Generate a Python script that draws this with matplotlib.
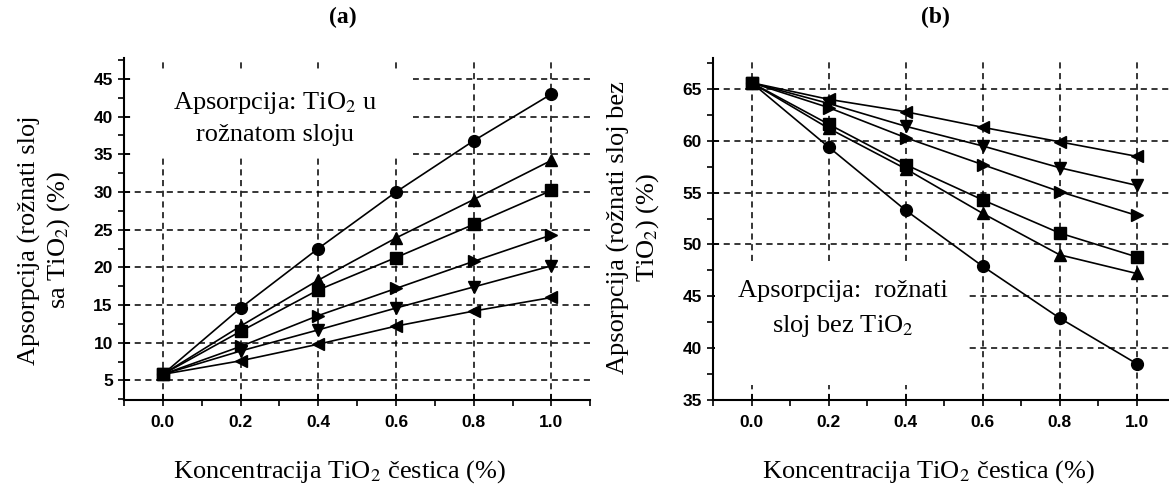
import matplotlib
matplotlib.use("Agg")
import matplotlib.pyplot as plt
from matplotlib.patches import Rectangle
from matplotlib.ticker import MultipleLocator

plt.rcParams['font.family'] = ['Liberation Serif', 'DejaVu Serif']
plt.rcParams['mathtext.fontset'] = 'stix'

# x values: TiO2 concentration (%)
concentration = [0.0, 0.2, 0.4, 0.6, 0.8, 1.0]

# panel (a): absorption of the pink layer with TiO2
a_circle = [5.8, 14.6, 22.5, 30.0, 36.8, 43.0]
a_up = [5.8, 12.2, 18.3, 23.9, 29.0, 34.2]
a_square = [5.8, 11.5, 17.0, 21.3, 25.7, 30.2]
a_right = [5.8, 9.5, 13.6, 17.2, 20.8, 24.3]
a_down = [5.8, 8.9, 11.7, 14.6, 17.4, 20.2]
a_left = [5.8, 7.6, 9.8, 12.2, 14.2, 16.0]

# panel (b): absorption of the pink layer without TiO2
b_circle = [65.6, 59.4, 53.3, 47.9, 42.9, 38.5]
b_up = [65.6, 61.2, 57.3, 53.0, 49.0, 47.2]
b_square = [65.6, 61.6, 57.7, 54.3, 51.1, 48.8]
b_right = [65.6, 63.2, 60.3, 57.7, 55.1, 52.8]
b_down = [65.6, 63.6, 61.4, 59.5, 57.4, 55.7]
b_left = [65.6, 64.0, 62.8, 61.3, 59.9, 58.5]

markers = ['o', '^', 's', '>', 'v', '<']
a_series = [a_circle, a_up, a_square, a_right, a_down, a_left]
b_series = [b_circle, b_up, b_square, b_right, b_down, b_left]

fig = plt.figure(figsize=(11.69, 4.86), dpi=100)
axA = fig.add_axes([0.106, 0.177, 0.399, 0.704])
axB = fig.add_axes([0.610, 0.177, 0.392, 0.704])


def styleAxis(ax, xlim, ylim, yticks):
    ax.set_xlim(*xlim)
    ax.set_ylim(*ylim)
    ax.set_xticks(concentration)
    ax.set_xticklabels([f"{c:.1f}" for c in concentration])
    ax.set_yticks(yticks)
    ax.xaxis.set_minor_locator(MultipleLocator(0.1))
    ax.yaxis.set_minor_locator(MultipleLocator(2.5))
    ax.tick_params(which='major', direction='inout', length=8, width=1.2)
    ax.tick_params(axis='x', which='major', pad=7)
    ax.tick_params(axis='y', which='major', pad=4)
    ax.tick_params(which='minor', direction='out', length=4, width=1.2)
    for lbl in ax.get_xticklabels() + ax.get_yticklabels():
        lbl.set_family('Liberation Sans')
        lbl.set_fontweight('bold')
        lbl.set_fontsize(12.5)
    for side in ['top', 'right']:
        ax.spines[side].set_visible(False)
    for side in ['left', 'bottom']:
        ax.spines[side].set_linewidth(1.5)
    ax.set_axisbelow(True)
    ax.grid(True, which='major', color='black', linestyle=(0, (4, 3)), linewidth=1.1)


styleAxis(axA, (-0.1, 1.1), (2.4, 47.8), [5, 10, 15, 20, 25, 30, 35, 40, 45])
styleAxis(axB, (-0.1, 1.09), (35, 68), [35, 40, 45, 50, 55, 60, 65])

for vals, m in zip(a_series, markers):
    axA.plot(concentration, vals, color='black', marker=m, markersize=8.5,
             linewidth=1.2, zorder=3)
for vals, m in zip(b_series, markers):
    axB.plot(concentration, vals, color='black', marker=m, markersize=8.5,
             linewidth=1.2, zorder=3)

# white label boxes inside the plots
axA.add_patch(Rectangle((0.02, 0.71), 0.6, 0.255, transform=axA.transAxes,
                        facecolor='white', edgecolor='none', zorder=2))
axA.text(0.324, 0.868, r"Apsorpcija: TiO$_2$ u", transform=axA.transAxes,
         ha='center', va='center', fontsize=19, zorder=4)
axA.text(0.324, 0.774, "rožnatom sloju", transform=axA.transAxes,
         ha='center', va='center', fontsize=19, zorder=4)

axB.add_patch(Rectangle((0.005, 0.044), 0.552, 0.362, transform=axB.transAxes,
                        facecolor='white', edgecolor='none', zorder=2))
axB.text(0.283, 0.318, "Apsorpcija:  rožnati", transform=axB.transAxes,
         ha='center', va='center', fontsize=19, zorder=4)
axB.text(0.283, 0.215, r"sloj bez TiO$_2$", transform=axB.transAxes,
         ha='center', va='center', fontsize=19, zorder=4)

# titles and axis labels
fig.text(343 / 1169, 1 - 17 / 486, "(a)", ha='center', va='center',
         fontsize=17, fontweight='bold')
fig.text(935 / 1169, 1 - 17 / 486, "(b)", ha='center', va='center',
         fontsize=17, fontweight='bold')

fig.text(340 / 1169, 1 - 472 / 486, r"Koncentracija TiO$_2$ čestica (%)",
         ha='center', va='center', fontsize=19)
fig.text(929 / 1169, 1 - 472 / 486, r"Koncentracija TiO$_2$ čestica (%)",
         ha='center', va='center', fontsize=19)

fig.text(45 / 1169, 1 - 240 / 486, "Apsorpcija (rožnati sloj\n" + r"sa TiO$_2$) (%)",
         ha='center', va='center', rotation=90, fontsize=19, linespacing=1.25,
         multialignment='center')
fig.text(634 / 1169, 1 - 227 / 486, "Apsorpcija (rožnati sloj bez\n" + r"TiO$_2$) (%)",
         ha='center', va='center', rotation=90, fontsize=19, linespacing=1.25,
         multialignment='center',
         bbox=dict(facecolor='white', edgecolor='none', pad=2))

fig.savefig("out.png", dpi=100)
